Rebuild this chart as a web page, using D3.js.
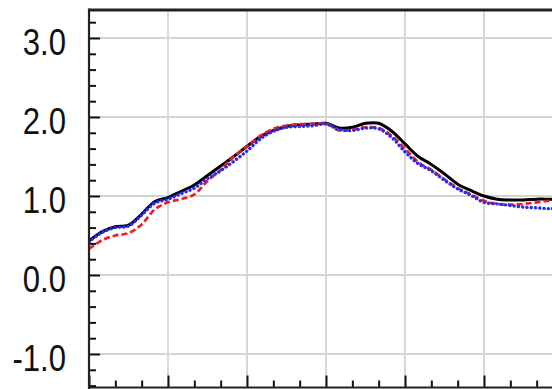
<!DOCTYPE html>
<html><head><meta charset="utf-8">
<script src="https://cdn.jsdelivr.net/npm/d3@7"></script>
<style>html,body{margin:0;padding:0;background:#fff;overflow:hidden}</style>
</head><body>
<script>
const xValues = d3.range(0, 37);
const seriesBlack = [0.43,0.55,0.61,0.63,0.77,0.93,0.98,1.06,1.14,1.26,1.38,1.50,1.63,1.75,1.83,1.88,1.90,1.91,1.92,1.86,1.87,1.92,1.92,1.82,1.66,1.50,1.40,1.28,1.15,1.07,1.00,0.96,0.95,0.95,0.96,0.96,0.96];
const seriesRed   = [0.33,0.44,0.50,0.53,0.64,0.83,0.92,0.96,1.02,1.19,1.33,1.50,1.63,1.76,1.85,1.89,1.91,1.91,1.92,1.83,1.84,1.87,1.86,1.76,1.60,1.43,1.33,1.21,1.10,1.02,0.94,0.90,0.89,0.90,0.92,0.94,0.94];
const seriesBlue  = [0.42,0.54,0.60,0.62,0.76,0.91,0.96,1.03,1.10,1.22,1.32,1.44,1.57,1.72,1.82,1.87,1.88,1.89,1.91,1.84,1.83,1.86,1.85,1.74,1.56,1.41,1.32,1.20,1.09,1.01,0.92,0.90,0.88,0.86,0.85,0.84,0.84];
const yTickValues = [-1, 0, 1, 2, 3];
const yTickLabels = ["-1.0", "0.0", "1.0", "2.0", "3.0"];
const xMajorTicks = [0, 6, 12, 18, 24, 30, 36];

(function () {
const W = 552, H = 389;
const svg = d3.select("body").append("svg").attr("width", W).attr("height", H);
const pLeft = 89, pTop = 10, pBottom = 387.5;
const x = d3.scaleLinear().domain([0, 36]).range([pLeft, 563]);
const y = d3.scaleLinear().domain([-1, 3]).range([354, 38]);

svg.append("defs").append("clipPath").attr("id", "clip")
  .append("rect").attr("x", pLeft).attr("y", pTop).attr("width", W - pLeft).attr("height", pBottom - pTop);

// grid
const grid = svg.append("g").attr("stroke", "#d4d4d4").attr("stroke-width", 1.8);
grid.selectAll("line.h").data(yTickValues).join("line").attr("class", "h")
  .attr("x1", pLeft).attr("x2", W).attr("y1", d => y(d)).attr("y2", d => y(d));
grid.selectAll("line.v").data(xMajorTicks.slice(1)).join("line").attr("class", "v")
  .attr("y1", pTop).attr("y2", pBottom).attr("x1", d => x(d)).attr("x2", d => x(d));

// lines
const plot = svg.append("g").attr("clip-path", "url(#clip)");
const line = d3.line().x((d, i) => x(xValues[i])).y(d => y(d)).curve(d3.curveCatmullRom.alpha(0.5));
plot.append("path").datum(seriesBlack).attr("d", line).attr("fill", "none")
  .attr("stroke", "#000").attr("stroke-width", 3);
plot.append("path").datum(seriesRed).attr("d", line).attr("fill", "none")
  .attr("stroke", "#ee1c24").attr("stroke-width", 2.7).attr("stroke-dasharray", "6,3");
plot.append("path").datum(seriesBlue).attr("d", line).attr("fill", "none")
  .attr("stroke", "#2b2bea").attr("stroke-width", 3.4).attr("stroke-linecap", "round").attr("stroke-dasharray", "0.1,4.2");

// left axis (ticks inward)
const yMinor = d3.range(-1.4, 3.41, 0.2).map(v => Math.round(v * 10) / 10).filter(v => Math.abs(v - Math.round(v)) > 1e-6);
const ga1 = svg.append("g").attr("transform", `translate(${pLeft},0)`).call(d3.axisRight(y).tickValues(yMinor).tickSize(7).tickFormat(""));
const ga2 = svg.append("g").attr("transform", `translate(${pLeft},0)`).call(d3.axisRight(y).tickValues(yTickValues).tickSize(11).tickFormat(""));
[ga1, ga2].forEach(g => { g.select(".domain").remove(); g.selectAll("line").attr("stroke", "#111").attr("stroke-width", 2); });
ga1.selectAll(".tick").filter(d => y(d) < pTop || y(d) > pBottom).remove();

// bottom axis (ticks inward)
const xMinor = d3.range(0, 37, 2).filter(v => v % 6 !== 0);
const gb1 = svg.append("g").attr("transform", `translate(0,${pBottom})`).call(d3.axisTop(x).tickValues(xMinor).tickSize(7).tickFormat(""));
const gb2 = svg.append("g").attr("transform", `translate(0,${pBottom})`).call(d3.axisTop(x).tickValues(xMajorTicks).tickSize(12).tickFormat(""));
[gb1, gb2].forEach(g => { g.select(".domain").remove(); g.selectAll("line").attr("stroke", "#111").attr("stroke-width", 2); });

// frame
svg.append("line").attr("x1", pLeft).attr("x2", W).attr("y1", pTop).attr("y2", pTop).attr("stroke", "#222").attr("stroke-width", 2.8);
svg.append("line").attr("x1", pLeft).attr("x2", pLeft).attr("y1", pTop - 1.4).attr("y2", H).attr("stroke", "#222").attr("stroke-width", 2.2);
svg.append("line").attr("x1", pLeft).attr("x2", W).attr("y1", pBottom).attr("y2", pBottom).attr("stroke", "#222").attr("stroke-width", 2.2);

// y labels
svg.append("g").selectAll("text").data(yTickValues).join("text")
  .attr("transform", d => `translate(66,${y(d) + 17}) scale(0.84,1)`)
  .attr("text-anchor", "end")
  .attr("font-family", "Liberation Sans, Arial, sans-serif")
  .attr("font-size", 37).attr("fill", "#111")
  .text((d, i) => yTickLabels[i]);
})();
</script>
</body></html>
